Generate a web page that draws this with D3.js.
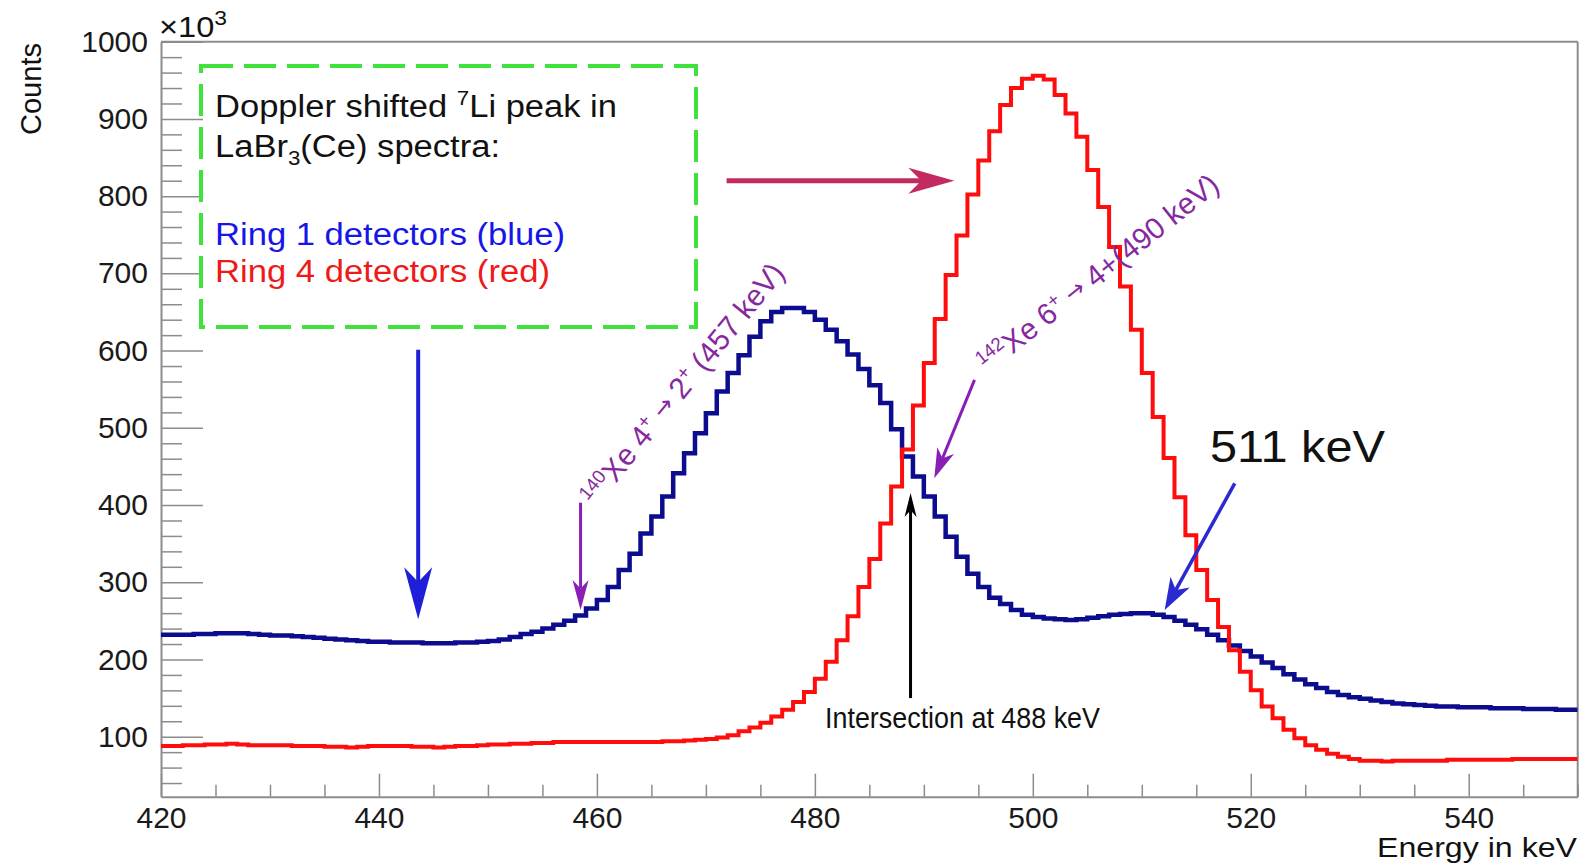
<!DOCTYPE html>
<html>
<head>
<meta charset="utf-8">
<script src="https://cdn.jsdelivr.net/npm/d3@7"></script>
<style>
  body { margin: 0; background: #fff; }
  svg { display: block; font-family: "Liberation Sans", Arial, Helvetica, sans-serif; }
</style>
</head>
<body>
<div id="chart"></div>
<script>
// 1 keV bins, low edges 420 ... 549
const energies = d3.range(420, 550);

// counts in units of 10^3
const ring1Counts = [
  232, 232, 232, 233, 233, 234, 234, 234, 233, 232,
  231, 231, 230, 229, 228, 227, 226, 225, 224, 223,
  223, 222, 222, 222, 221, 221, 221, 222, 222, 223,
  224, 226, 229, 233, 236, 240, 245, 250, 257, 266,
  277, 294, 316, 337, 363, 385, 411, 441, 467, 493,
  519, 547, 571, 594, 618, 638, 650, 655, 655, 650,
  640, 627, 612, 595, 576, 555, 532, 498, 463, 437,
  411, 385, 359, 333, 311, 294, 280, 272, 264, 258,
  255, 253, 252, 251, 252, 254, 256, 258, 259, 260,
  260, 258, 255, 250, 245, 239, 232, 225, 218, 211,
  204, 196, 189, 181, 174, 168, 163, 158, 154, 151,
  149, 147, 145, 143, 142, 141, 140, 139, 139, 138,
  138, 138, 137, 137, 137, 136, 136, 136, 135, 135
];

const ring4Counts = [
  88, 88, 89, 89, 90, 90, 91, 90, 89, 89,
  89, 89, 88, 88, 88, 87, 87, 86, 87, 88,
  88, 88, 88, 87, 87, 86, 87, 88, 88, 89,
  90, 90, 91, 91, 92, 92, 93, 93, 93, 93,
  93, 93, 93, 93, 93, 93, 94, 94, 95, 96,
  97, 99, 102, 107, 112, 118, 126, 135, 145, 158,
  175, 197, 225, 256, 294, 330, 376, 424, 472, 529,
  584, 641, 698, 749, 802, 846, 884, 918, 940, 952,
  956, 951, 931, 907, 877, 834, 786, 734, 683, 627,
  571, 514, 461, 410, 361, 316, 277, 242, 212, 184,
  160, 139, 124, 109, 98, 89, 83, 78, 74, 71,
  69, 69, 68, 69, 69, 69, 69, 69, 70, 70,
  70, 70, 70, 70, 71, 71, 71, 71, 71, 71
];

const xMajorTicks = [420, 440, 460, 480, 500, 520, 540];
const yMajorTicks = [100, 200, 300, 400, 500, 600, 700, 800, 900, 1000];

const width = 1591;
const height = 864;
const margin = { top: 41.7, right: 13.3, bottom: 67.3, left: 161 };
const pw = width - margin.left - margin.right;
const ph = height - margin.top - margin.bottom;

const svg = d3.select('#chart')
  .append('svg')
  .attr('width', width)
  .attr('height', height);

const g = svg.append('g')
  .attr('transform', `translate(${margin.left},${margin.top})`);

const x = d3.scaleLinear().domain([420, 550]).range([0, pw]);
const y = d3.scaleLinear().domain([22.3, 1000]).range([ph, 0]);

const axisGray = '#8c8c8c';
const labelFont = '"Liberation Sans", Arial, sans-serif';

// minor ticks
const xMinor = d3.range(420, 551, 5).filter(v => v % 20 !== 0);
const yMinor = d3.range(40, 1000, 20).filter(v => v % 100 !== 0);

g.append('g')
  .attr('transform', `translate(0,${ph})`)
  .call(d3.axisBottom(x).tickValues(xMinor).tickSize(-12).tickSizeOuter(0).tickFormat(''))
  .call(a => a.select('.domain').remove())
  .call(a => a.selectAll('line').attr('stroke', axisGray).attr('stroke-width', 1.5));

g.append('g')
  .call(d3.axisLeft(y).tickValues(yMinor).tickSize(-21).tickSizeOuter(0).tickFormat(''))
  .call(a => a.select('.domain').remove())
  .call(a => a.selectAll('line').attr('stroke', axisGray).attr('stroke-width', 1.5));

// major ticks and labels
g.append('g')
  .attr('transform', `translate(0,${ph})`)
  .call(d3.axisBottom(x).tickValues(xMajorTicks).tickSize(-23).tickSizeOuter(0)
    .tickPadding(10.5).tickFormat(d3.format('d')))
  .call(a => a.select('.domain').attr('stroke', axisGray).attr('stroke-width', 2))
  .call(a => a.selectAll('line').attr('stroke', axisGray).attr('stroke-width', 1.5))
  .call(a => a.selectAll('text').attr('font-size', 30).attr('fill', '#1a1a1a')
    .attr('font-family', labelFont));

g.append('g')
  .call(d3.axisLeft(y).tickValues(yMajorTicks).tickSize(-42).tickSizeOuter(0)
    .tickPadding(13).tickFormat(d3.format('d')))
  .call(a => a.select('.domain').attr('stroke', axisGray).attr('stroke-width', 2))
  .call(a => a.selectAll('line').attr('stroke', axisGray).attr('stroke-width', 1.5))
  .call(a => a.selectAll('text').attr('font-size', 30).attr('fill', '#1a1a1a')
    .attr('font-family', labelFont));

// frame top and right
g.append('line').attr('x1', 0).attr('x2', pw).attr('y1', 0).attr('y2', 0)
  .attr('stroke', axisGray).attr('stroke-width', 2);
g.append('line').attr('x1', pw).attr('x2', pw).attr('y1', 0).attr('y2', ph)
  .attr('stroke', axisGray).attr('stroke-width', 2);

// histograms
g.append('clipPath').attr('id', 'plotclip')
  .append('rect').attr('x', 0).attr('y', 0).attr('width', pw).attr('height', ph);

const step = d3.line()
  .x(d => x(d[0]))
  .y(d => y(d[1]))
  .curve(d3.curveStepAfter);

function histPoints(counts) {
  const pts = energies.map((e, i) => [e, counts[i]]);
  pts.push([energies[energies.length - 1] + 1, counts[counts.length - 1]]);
  return pts;
}

const hists = g.append('g').attr('clip-path', 'url(#plotclip)');
hists.append('path')
  .datum(histPoints(ring1Counts))
  .attr('d', step)
  .attr('fill', 'none')
  .attr('stroke', '#0c0c8e')
  .attr('stroke-width', 4.5);
hists.append('path')
  .datum(histPoints(ring4Counts))
  .attr('d', step)
  .attr('fill', 'none')
  .attr('stroke', '#ff0d0d')
  .attr('stroke-width', 4);

// arrows (data coordinates: keV, counts x10^3)
const arrows = [
  { from: [443.6, 601], to: [443.6, 252], color: '#1f1fd8', w: 4, head: 52, hw: 14 },
  { from: [471.9, 820], to: [492.8, 820], color: '#c42a62', w: 5, head: 46, hw: 13 },
  { from: [458.5, 403], to: [458.5, 264], color: '#8a1fb5', w: 3, head: 30, hw: 8 },
  { from: [494.65, 562], to: [490.96, 434.6], color: '#8a1fb5', w: 3, head: 30, hw: 9 },
  { from: [488.78, 150], to: [488.78, 415.6], color: '#000', w: 3, head: 24, hw: 6 },
  { from: [518.53, 428], to: [512.1, 264], color: '#2a2ad0', w: 3.5, head: 32, hw: 11 }
];

arrows.forEach(a => {
  const x1 = x(a.from[0]), y1 = y(a.from[1]);
  const x2 = x(a.to[0]), y2 = y(a.to[1]);
  const len = Math.hypot(x2 - x1, y2 - y1);
  const ux = (x2 - x1) / len, uy = (y2 - y1) / len;
  const nx = -uy, ny = ux;
  const bx = x2 - ux * a.head, by = y2 - uy * a.head;
  const kx = x2 - ux * a.head * 0.72, ky = y2 - uy * a.head * 0.72;
  g.append('line')
    .attr('x1', x1).attr('y1', y1).attr('x2', kx).attr('y2', ky)
    .attr('stroke', a.color).attr('stroke-width', a.w);
  g.append('polygon')
    .attr('points', [[x2, y2], [bx + nx * a.hw, by + ny * a.hw], [kx, ky], [bx - nx * a.hw, by - ny * a.hw]]
      .map(p => p.join(',')).join(' '))
    .attr('fill', a.color);
});

// legend box
svg.append('rect')
  .attr('x', 201).attr('y', 66)
  .attr('width', 495).attr('height', 261)
  .attr('fill', 'none')
  .attr('stroke', '#3ee23a')
  .attr('stroke-width', 4)
  .attr('stroke-dasharray', '32 11');

function addText(parent, opts, parts) {
  const t = parent.append('text')
    .attr('x', opts.x).attr('y', opts.y)
    .attr('font-size', opts.size)
    .attr('fill', opts.color || '#111');
  if (opts.anchor) t.attr('text-anchor', opts.anchor);
  if (opts.len) t.attr('textLength', opts.len).attr('lengthAdjust', 'spacingAndGlyphs');
  if (opts.transform) t.attr('transform', opts.transform);
  parts.forEach(p => {
    const s = t.append('tspan').text(p.t);
    if (p.size) s.attr('font-size', p.size);
    if (p.dy) s.attr('dy', p.dy);
    if (p.font) s.attr('font-family', p.font);
  });
  return t;
}

addText(svg, { x: 215, y: 116.7, size: 31, len: 402 }, [
  { t: 'Doppler shifted ' }, { t: '7', size: 20, dy: -12 }, { t: 'Li peak in', dy: 12 }
]);
addText(svg, { x: 215, y: 156.7, size: 31, len: 285 }, [
  { t: 'LaBr' }, { t: '3', size: 20, dy: 8 }, { t: '(Ce) spectra:', dy: -8 }
]);
addText(svg, { x: 215, y: 245, size: 31, len: 350, color: '#1616e8' }, [{ t: 'Ring 1 detectors (blue)' }]);
addText(svg, { x: 215, y: 282, size: 31, len: 335, color: '#ee1a1a' }, [{ t: 'Ring 4 detectors (red)' }]);

const purpleText = '#86289f';
const arrowFont = '"DejaVu Sans", sans-serif';
addText(svg, { x: 0, y: 0, size: 30, len: 302, color: purpleText, transform: 'translate(596,508) rotate(-51)' }, [
  { t: '140', size: 19, dy: -11 }, { t: 'Xe 4', dy: 11 }, { t: '+', size: 19, dy: -11 },
  { t: ' \u2192 ', size: 24, dy: 8, font: arrowFont }, { t: '2', dy: 3 }, { t: '+', size: 19, dy: -11 },
  { t: ' (457 keV)', dy: 11 }
]);
addText(svg, { x: 0, y: 0, size: 30, len: 298, color: purpleText, transform: 'translate(988,374) rotate(-38.5)' }, [
  { t: '142', size: 19, dy: -11 }, { t: 'Xe 6', dy: 11 }, { t: '+', size: 19, dy: -11 },
  { t: ' \u2192 ', size: 24, dy: 8, font: arrowFont }, { t: '4+(490 keV)', dy: 3 }
]);

addText(svg, { x: 1210, y: 461.7, size: 45, len: 175 }, [{ t: '511 keV' }]);
addText(svg, { x: 825, y: 728.3, size: 29, len: 275 }, [{ t: 'Intersection at 488 keV' }]);

// axis titles
addText(svg, { x: 1577, y: 856.7, size: 27, len: 200, anchor: 'end' }, [{ t: 'Energy in keV' }]);
addText(svg, { x: 0, y: 0, size: 30, len: 92, anchor: 'end', transform: 'translate(41,43) rotate(-90)' }, [{ t: 'Counts' }]);
addText(svg, { x: 159, y: 37, size: 30, len: 68 }, [
  { t: '\u00d710' }, { t: '3', size: 21, dy: -12 }
]);
</script>
</body>
</html>
